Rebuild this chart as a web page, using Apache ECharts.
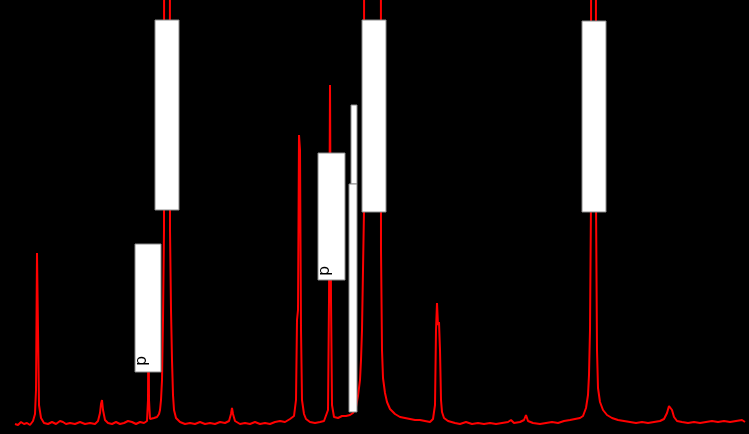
<!DOCTYPE html>
<html>
<head>
<meta charset="utf-8">
<script src="https://cdn.jsdelivr.net/npm/echarts@6/dist/echarts.min.js"></script>
<style>
html,body{margin:0;padding:0;background:#000;}
#chart{width:749px;height:434px;}
</style>
</head>
<body>
<div id="chart"></div>
<script>
// Diffraction pattern: 2-theta positions and intensities
var twoTheta = [5.0,5.3,5.6,5.9,6.2,6.5,6.8,7.0,7.1,7.2,7.3,7.4,7.6,7.9,8.3,8.7,9.1,9.5,9.8,10.1,10.5,11.0,11.5,12.0,12.5,13.0,13.3,13.5,13.6,13.7,13.8,14.0,14.3,14.7,15.1,15.5,15.9,16.3,16.7,17.1,17.5,17.9,18.2,18.3,18.35,18.4,18.5,18.9,19.2,19.4,19.5,19.6,19.7,19.8,19.9,20.0,20.4,20.5,20.6,20.7,20.8,20.9,21.1,21.5,22.0,22.5,23.0,23.5,24.0,24.5,25.0,25.5,26.0,26.4,26.6,26.7,26.8,27.0,27.5,28.0,28.5,29.0,29.5,30.0,30.5,31.0,31.5,32.0,32.5,32.7,32.9,33.1,33.2,33.3,33.4,33.5,33.6,33.7,33.9,34.1,34.5,35.0,35.5,35.9,36.1,36.3,36.4,36.5,36.6,36.7,36.9,37.3,37.7,38.1,38.5,38.8,39.1,39.3,39.5,39.6,39.7,39.8,39.9,40.0,41.5,41.6,41.65,41.7,41.8,42.0,42.2,42.5,43.0,43.5,44.0,44.5,45.0,45.5,46.0,46.5,46.8,47.0,47.1,47.2,47.3,47.4,47.5,47.6,47.7,47.9,48.3,49.0,49.5,50.1,50.7,51.3,51.9,52.5,53.1,53.7,54.3,54.6,54.9,55.5,55.9,56.1,56.3,56.8,57.5,58.1,58.7,59.3,59.9,60.5,61.0,61.5,61.8,62.1,62.3,62.4,62.5,62.6,62.7,63.0,63.1,63.2,63.3,63.5,63.8,64.2,64.7,65.3,65.9,66.5,67.1,67.7,68.3,68.9,69.5,69.9,70.2,70.4,70.5,70.7,70.9,71.2,71.7,72.3,72.9,73.5,74.1,74.7,75.3,75.9,76.5,77.1,77.7,78.0];
var intensity = [60,50,80,60,70,50,90,160,400,1770,1000,250,120,70,60,80,60,90,80,60,70,60,80,60,70,60,90,170,260,300,200,100,70,60,80,60,70,90,80,60,80,70,90,300,1300,300,110,120,130,160,200,300,500,1100,2000,30000,30000,2000,1200,700,350,200,120,80,60,70,60,80,60,70,60,80,70,90,160,220,160,90,60,70,60,80,60,70,60,80,90,80,110,100,140,300,1100,1200,2950,2800,1000,300,160,110,80,70,80,90,100,200,1300,3450,1300,250,130,120,140,140,150,170,230,340,500,700,1000,1600,2200,30000,30000,1800,1300,800,520,370,280,210,160,130,120,110,100,100,90,80,110,250,1000,1270,1050,1080,800,300,180,120,90,70,60,80,60,70,60,70,60,70,80,100,70,80,100,150,90,70,60,70,80,70,90,100,110,120,140,220,350,550,1000,2300,30000,30000,2300,800,420,280,200,150,120,100,90,80,70,80,70,80,90,110,170,240,250,200,130,90,80,70,80,70,80,90,80,90,80,90,100,80];

// Annotation boxes (data coordinates) and their labels
var boxX1 = [17.0, 19.0, 35.3, 38.6, 38.4, 39.7, 61.7];
var boxX2 = [19.6, 21.4, 38.0, 39.2, 39.2, 42.1, 64.1];
var boxY1 = [580, 2200, 1500, 2460, 180, 2180, 2180];
var boxY2 = [1860, 4100, 2770, 3250, 2460, 4100, 4090];
var labelText = ['p', 'p'];
var labelX = [17.7, 36.0];
var labelY = [690, 1590];

var lineData = twoTheta.map(function (t, i) { return [t, intensity[i]]; });
var boxData = boxX1.map(function (x, i) { return [x, boxY1[i], boxX2[i], boxY2[i]]; });
var textData = labelX.map(function (x, i) { return [x, labelY[i], labelText[i]]; });

var chart = echarts.init(document.getElementById('chart'), null, {renderer: 'canvas'});
chart.setOption({
  backgroundColor: '#000000',
  animation: false,
  grid: {left: 15, right: 4, top: 0, bottom: 4, containLabel: false},
  xAxis: {type: 'value', min: 5, max: 78, show: false},
  yAxis: {type: 'value', min: 0, max: 4300, show: false},
  series: [
    {
      type: 'line',
      data: lineData,
      showSymbol: false,
      symbol: 'none',
      clip: true,
      lineStyle: {color: '#ff0000', width: 2},
      z: 2
    },
    {
      type: 'custom',
      data: boxData,
      z: 5,
      renderItem: function (params, api) {
        var p1 = api.coord([api.value(0), api.value(3)]);
        var p2 = api.coord([api.value(2), api.value(1)]);
        return {
          type: 'rect',
          shape: {x: p1[0], y: p1[1], width: p2[0] - p1[0], height: p2[1] - p1[1]},
          style: {fill: '#ffffff', stroke: '#8c8c8c', lineWidth: 1}
        };
      }
    },
    {
      type: 'custom',
      data: textData,
      z: 6,
      renderItem: function (params, api) {
        var p = api.coord([api.value(0), api.value(1)]);
        return {
          type: 'text',
          x: p[0], y: p[1],
          rotation: Math.PI / 2,
          style: {
            text: textData[params.dataIndex][2],
            fill: '#000000',
            font: '16px "DejaVu Sans", sans-serif',
            align: 'center',
            verticalAlign: 'middle'
          }
        };
      }
    }
  ]
});
</script>
</body>
</html>
